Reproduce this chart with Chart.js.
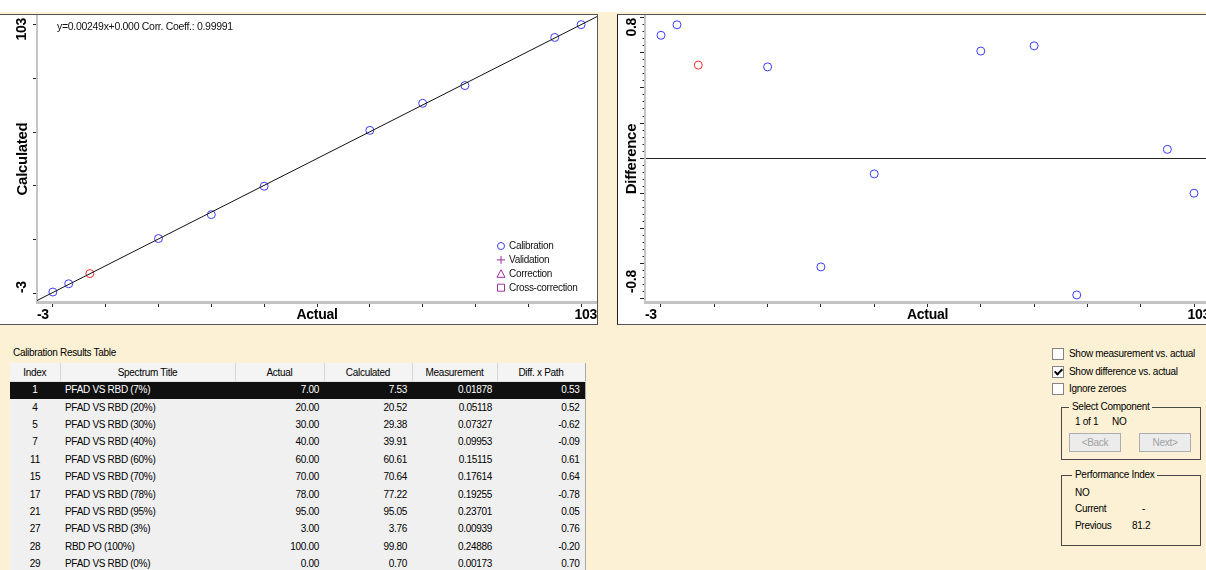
<!DOCTYPE html>
<html lang="en">
<head>
<meta charset="UTF-8">
<title>Calibration Results</title>
<script src="https://cdn.jsdelivr.net/npm/chart.js"></script>
<style>
  body { margin:0; width:1206px; height:570px; overflow:hidden; position:relative; background:#fcf1d4;
         font-family:"Liberation Sans", Arial, sans-serif; font-size:10px; letter-spacing:-0.3px; color:#000; }
  .top-band { position:absolute; left:0; top:0; width:1206px; height:12px; background:#fff; }
  .plot-box { position:absolute; top:14px; height:309px; background:#fff; border-top:1px solid #555; border-bottom:1px solid #555; overflow:hidden; }
  #calBox { left:0; width:597px; border-right:1px solid #555; }
  #diffBox { left:617px; width:600px; border-left:1px solid #222; }
  canvas { display:block; }

  #tableCaption { position:absolute; left:13px; top:347px; line-height:12px; }
  #resultsTable { position:absolute; left:10px; top:363px; width:575px; border-collapse:collapse; table-layout:fixed; }
  #resultsTable th { height:18px; padding:0; background:#f4f4f4; font-weight:normal; border-right:1px solid #d6d6d6; border-bottom:1px solid #e2e2e2; }
  #resultsTable tbody tr { height:17.4px; }
  #resultsTable td { padding:0 5px 0 5px; background:#f0f0f0; text-align:right; white-space:nowrap; overflow:hidden; line-height:12px; }
  #resultsTable td.c { text-align:center; }
  #resultsTable td.t { text-align:left; }
  #resultsTable td:last-child, #resultsTable th:last-child { border-right:1px solid #a8a8a8; }
  #resultsTable tr.selected td { background:#101010; color:#fff; }

  .check { position:absolute; left:1052px; width:12px; height:12px; border:1px solid #848484; background:#fff; box-sizing:border-box; }
  .check.on::after { content:''; position:absolute; left:3px; top:0; width:3px; height:6px; border:solid #000; border-width:0 2px 2px 0; transform:rotate(45deg); }
  .txt { position:absolute; line-height:12px; white-space:nowrap; }
  .group { position:absolute; left:1061px; width:138px; border:1px solid #4a4a4a; }
  #selectGroup { top:407px; height:51px; }
  #perfGroup { top:475px; height:69px; }
  .group-title { position:absolute; top:-7px; padding:0 3px; background:#fcf1d4; line-height:12px; white-space:nowrap; }
  .btn { position:absolute; top:433px; width:52px; height:19px; box-sizing:border-box; border:1px solid #adadad;
         background:#ececec; color:#a0a0a0; text-align:center; line-height:17px; }
</style>
</head>
<body>
<div class="top-band"></div>
<div class="plot-box" id="calBox"><canvas id="calChart" width="597" height="309"></canvas></div>
<div class="plot-box" id="diffBox"><canvas id="diffChart" width="592" height="309"></canvas></div>

<div id="tableCaption">Calibration Results Table</div>
<table id="resultsTable">
  <colgroup><col style="width:50px"><col style="width:175px"><col style="width:89px"><col style="width:88px"><col style="width:85px"><col style="width:88px"></colgroup>
  <thead><tr><th>Index</th><th>Spectrum Title</th><th>Actual</th><th>Calculated</th><th>Measurement</th><th>Diff. x Path</th></tr></thead>
  <tbody></tbody>
</table>

<div class="check" style="top:348px"></div><div class="txt" style="left:1069px;top:348px">Show measurement vs. actual</div>
<div class="check on" style="top:366px"></div><div class="txt" style="left:1069px;top:366px">Show difference vs. actual</div>
<div class="check" style="top:383px"></div><div class="txt" style="left:1069px;top:383px">Ignore zeroes</div>

<div class="group" id="selectGroup"><span class="group-title" style="left:7px">Select Component</span></div>
<div class="txt" style="left:1075px;top:416px">1 of 1</div>
<div class="txt" style="left:1112px;top:416px">NO</div>
<div class="btn" style="left:1069px">&lt;Back</div>
<div class="btn" style="left:1139px">Next&gt;</div>

<div class="group" id="perfGroup"><span class="group-title" style="left:10px">Performance Index</span></div>
<div class="txt" style="left:1075px;top:487px">NO</div>
<div class="txt" style="left:1075px;top:503px">Current</div>
<div class="txt" style="left:1142px;top:503px">-</div>
<div class="txt" style="left:1075px;top:520px">Previous</div>
<div class="txt" style="left:1132px;top:520px">81.2</div>

<script>
// calibration results, in table order
const sampleIndex = [1, 4, 5, 7, 11, 15, 17, 21, 27, 28, 29];
const spectrumTitles = ['PFAD VS RBD (7%)', 'PFAD VS RBD (20%)', 'PFAD VS RBD (30%)', 'PFAD VS RBD (40%)',
  'PFAD VS RBD (60%)', 'PFAD VS RBD (70%)', 'PFAD VS RBD (78%)', 'PFAD VS RBD (95%)',
  'PFAD VS RBD (3%)', 'RBD PO (100%)', 'PFAD VS RBD (0%)'];
const actualValues = [7, 20, 30, 40, 60, 70, 78, 95, 3, 100, 0];
const calculatedValues = [7.53, 20.52, 29.38, 39.91, 60.61, 70.64, 77.22, 95.05, 3.76, 99.80, 0.70];
const measurementValues = [0.01878, 0.05118, 0.07327, 0.09953, 0.15115, 0.17614, 0.19255, 0.23701, 0.00939, 0.24886, 0.00173];
const diffPathValues = [0.53, 0.52, -0.62, -0.09, 0.61, 0.64, -0.78, 0.05, 0.76, -0.20, 0.70];
const selectedRow = 0;

// fit shown in the corner of the calibration plot
const fitSlopeText = '0.00249';
const fitInterceptText = '0.000';
const corrCoeffText = '0.99991';

// axes
const actualRange = [-3, 103];
const calculatedRange = [-3, 103];
const diffRange = [-0.82, 0.81];
const actualTicks = [0, 10, 20, 30, 40, 50, 60, 70, 80, 90, 100];
const calculatedTicks = [0, 20, 40, 60, 80, 100];
const diffMajorTicks = [-0.8, -0.6, -0.4, -0.2, 0, 0.2, 0.4, 0.6, 0.8];
const diffMinorPerMajor = 4;
const diffEndLabels = ['-0.8', '0.8'];

const calColor = '#3c3cff';
const selColor = '#ff2a2a';
const extraColor = '#9b309b';
const axisFont = { family: '"Liberation Sans", Arial, sans-serif', size: 14, weight: 'bold' };
const yTitleFont = { family: '"Liberation Sans", Arial, sans-serif', size: 15, weight: 'bold' };

// build the table
const tbody = document.querySelector('#resultsTable tbody');
sampleIndex.forEach((n, i) => {
  const tr = document.createElement('tr');
  if (i === selectedRow) tr.className = 'selected';
  tr.innerHTML = '<td class="c">' + n + '</td><td class="t">' + spectrumTitles[i] + '</td>' +
    '<td>' + actualValues[i].toFixed(2) + '</td><td>' + calculatedValues[i].toFixed(2) + '</td>' +
    '<td>' + measurementValues[i].toFixed(5) + '</td><td>' + diffPathValues[i].toFixed(2) + '</td>';
  tbody.appendChild(tr);
});

function linearFit(xs, ys) {
  const n = xs.length;
  const mx = xs.reduce((a, b) => a + b, 0) / n;
  const my = ys.reduce((a, b) => a + b, 0) / n;
  let sxy = 0, sxx = 0;
  xs.forEach((x, i) => { sxy += (x - mx) * (ys[i] - my); sxx += (x - mx) * (x - mx); });
  const slope = sxy / sxx;
  return { slope: slope, intercept: my - slope * mx };
}

const near = (a, b) => Math.abs(a - b) < 1e-6;
const pointColor = ctx => ctx.dataIndex === selectedRow ? selColor : calColor;

// rotated labels at both ends of the y axis
const endLabels = {
  id: 'endLabels',
  afterDraw(chart, args, opts) {
    const y = chart.scales.y, ctx = chart.ctx;
    ctx.save();
    ctx.font = 'bold 14px "Liberation Sans", Arial, sans-serif';
    ctx.fillStyle = '#000';
    ctx.textBaseline = 'middle';
    ctx.translate(opts.x, y.getPixelForValue(y.max) + 2);
    ctx.rotate(-Math.PI / 2);
    ctx.textAlign = 'right';
    ctx.fillText(opts.top, 0, 0);
    ctx.restore();
    ctx.save();
    ctx.font = 'bold 14px "Liberation Sans", Arial, sans-serif';
    ctx.fillStyle = '#000';
    ctx.textBaseline = 'middle';
    ctx.translate(opts.x, y.getPixelForValue(y.min) - 9);
    ctx.rotate(-Math.PI / 2);
    ctx.textAlign = 'left';
    ctx.fillText(opts.bottom, 0, 0);
    ctx.restore();
  }
};

// marker legend in the lower right of the plot
const markerLegend = {
  id: 'markerLegend',
  afterDraw(chart, args, opts) {
    if (!opts.show) return;
    const { ctx, chartArea } = chart;
    const items = chart.data.datasets.filter(d => !d.showLine);
    ctx.save();
    ctx.font = '10px "Liberation Sans", Arial, sans-serif';
    ctx.textBaseline = 'middle';
    ctx.textAlign = 'left';
    ctx.lineWidth = 1;
    items.forEach((ds, i) => {
      const cx = chartArea.right - 96;
      const cy = chartArea.bottom - 56 + i * 13.9;
      ctx.strokeStyle = ds.borderColor;
      ctx.beginPath();
      if (ds.pointStyle === 'circle') {
        ctx.arc(cx, cy, 3.5, 0, Math.PI * 2);
      } else if (ds.pointStyle === 'cross') {
        ctx.moveTo(cx - 4, cy); ctx.lineTo(cx + 4, cy);
        ctx.moveTo(cx, cy - 4); ctx.lineTo(cx, cy + 4);
      } else if (ds.pointStyle === 'triangle') {
        ctx.moveTo(cx, cy - 4); ctx.lineTo(cx + 4, cy + 3.5); ctx.lineTo(cx - 4, cy + 3.5); ctx.closePath();
      } else {
        ctx.rect(cx - 3.5, cy - 3.5, 7, 7);
      }
      ctx.stroke();
      ctx.fillStyle = '#111';
      ctx.fillText(ds.label, cx + 8, cy + 0.5);
    });
    ctx.restore();
  }
};

const fitNote = {
  id: 'fitNote',
  afterDraw(chart, args, opts) {
    if (!opts.text) return;
    const { ctx, chartArea } = chart;
    ctx.save();
    ctx.font = '10.5px "Liberation Sans", Arial, sans-serif';
    ctx.fillStyle = '#111';
    ctx.textBaseline = 'middle';
    ctx.fillText(opts.text, chartArea.left + 20, chartArea.top + 11);
    ctx.restore();
  }
};

function xAxis() {
  return {
    type: 'linear',
    min: actualRange[0],
    max: actualRange[1],
    afterBuildTicks: s => { s.ticks = [actualRange[0]].concat(actualTicks, [actualRange[1]]).map(v => ({ value: v })); },
    afterFit: s => { s.height = 22; },
    grid: {
      drawOnChartArea: false,
      tickLength: 5,
      tickColor: c => (c.tick && actualTicks.some(t => near(t, c.tick.value))) ? '#222' : 'rgba(0,0,0,0)'
    },
    border: { display: true, color: '#c4c4c4', width: 3 },
    ticks: {
      autoSkip: false, minRotation: 0, maxRotation: 0, align: 'inner', padding: 0,
      color: '#000', font: axisFont,
      callback: v => near(v, actualRange[0]) ? String(actualRange[0]) : near(v, actualRange[1]) ? String(actualRange[1]) : ''
    },
    title: { display: true, text: 'Actual', color: '#000', font: axisFont, padding: { top: 0, bottom: 0 } }
  };
}

const commonOptions = {
  responsive: false,
  animation: false,
  events: [],
  layout: { autoPadding: false, padding: { top: 1, left: 0, right: 0, bottom: 0 } }
};

// calibration plot: calculated vs actual
const fit = linearFit(actualValues, calculatedValues);
new Chart(document.getElementById('calChart'), {
  type: 'scatter',
  data: {
    datasets: [
      {
        label: 'fit',
        showLine: true,
        data: actualRange.map(x => ({ x: x, y: fit.slope * x + fit.intercept })),
        borderColor: '#111',
        borderWidth: 1,
        pointRadius: 0
      },
      {
        label: 'Calibration',
        pointStyle: 'circle',
        data: actualValues.map((x, i) => ({ x: x, y: calculatedValues[i] })),
        borderColor: calColor,
        pointBorderColor: pointColor,
        pointBackgroundColor: 'rgba(0,0,0,0)',
        pointBorderWidth: 1,
        pointRadius: 4
      },
      { label: 'Validation', pointStyle: 'cross', data: [], borderColor: extraColor },
      { label: 'Correction', pointStyle: 'triangle', data: [], borderColor: extraColor },
      { label: 'Cross-correction', pointStyle: 'rect', data: [], borderColor: extraColor }
    ]
  },
  options: Object.assign({}, commonOptions, {
    scales: {
      x: xAxis(),
      y: {
        type: 'linear',
        min: calculatedRange[0],
        max: calculatedRange[1],
        afterBuildTicks: s => { s.ticks = calculatedTicks.map(v => ({ value: v })); },
        afterFit: s => { s.width = 37; },
        grid: { drawOnChartArea: false, tickLength: 4, tickColor: '#222' },
        border: { display: true, color: '#c4c4c4', width: 2 },
        ticks: { display: false },
        title: { display: true, text: 'Calculated', color: '#000', font: yTitleFont, padding: { top: 14, bottom: 0 } }
      }
    },
    plugins: {
      legend: { display: false },
      tooltip: { enabled: false },
      endLabels: { x: 22, top: String(calculatedRange[1]), bottom: String(calculatedRange[0]) },
      markerLegend: { show: true },
      fitNote: { text: 'y=' + fitSlopeText + 'x+' + fitInterceptText + ' Corr. Coeff.: ' + corrCoeffText }
    }
  }),
  plugins: [endLabels, markerLegend, fitNote]
});

// difference plot: diff x path vs actual
const diffTickValues = [];
diffMajorTicks.forEach((t, i) => {
  diffTickValues.push(t);
  if (i < diffMajorTicks.length - 1) {
    const step = (diffMajorTicks[i + 1] - t) / (diffMinorPerMajor + 1);
    for (let k = 1; k <= diffMinorPerMajor; k++) diffTickValues.push(t + k * step);
  }
});
const isMajorDiff = v => diffMajorTicks.some(t => near(t, v));

new Chart(document.getElementById('diffChart'), {
  type: 'scatter',
  data: {
    datasets: [{
      label: 'Calibration',
      data: actualValues.map((x, i) => ({ x: x, y: diffPathValues[i] })),
      pointBorderColor: pointColor,
      pointBackgroundColor: 'rgba(0,0,0,0)',
      pointBorderWidth: 1,
      pointRadius: 4
    }]
  },
  options: Object.assign({}, commonOptions, {
    scales: {
      x: xAxis(),
      y: {
        type: 'linear',
        min: diffRange[0],
        max: diffRange[1],
        afterBuildTicks: s => { s.ticks = diffTickValues.map(v => ({ value: v })); },
        afterFit: s => { s.width = 27; },
        grid: {
          drawOnChartArea: true,
          color: c => (c.tick && near(c.tick.value, 0)) ? '#222' : 'rgba(0,0,0,0)',
          lineWidth: 1,
          tickLength: 5,
          tickColor: '#222',
          tickBorderDash: c => (c.tick && isMajorDiff(c.tick.value)) ? [] : [0, 2.5, 1.5, 10]
        },
        border: { display: true, color: '#c4c4c4', width: 2 },
        ticks: { display: false },
        title: { display: true, text: 'Difference', color: '#000', font: yTitleFont, padding: { top: 5, bottom: 0 } }
      }
    },
    plugins: {
      legend: { display: false },
      tooltip: { enabled: false },
      endLabels: { x: 14, top: diffEndLabels[1], bottom: diffEndLabels[0] },
      markerLegend: { show: false },
      fitNote: { text: '' }
    }
  }),
  plugins: [endLabels, markerLegend, fitNote]
});
</script>
</body>
</html>
